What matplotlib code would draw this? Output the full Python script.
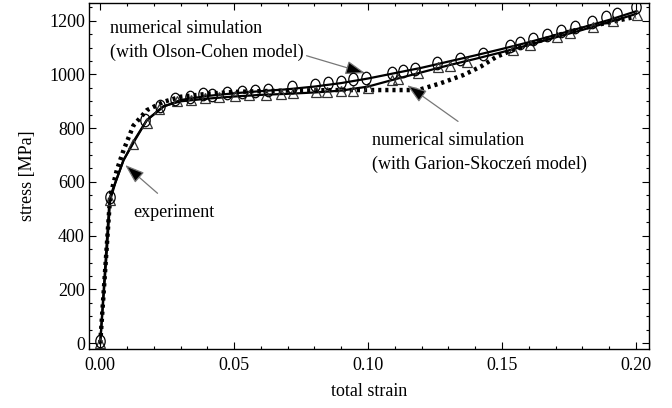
import numpy as np
import matplotlib
matplotlib.use("Agg")
import matplotlib.pyplot as plt
from matplotlib.path import Path
from matplotlib.transforms import Affine2D
from matplotlib.ticker import MultipleLocator

plt.rcParams['font.family'] = ['Liberation Serif', 'DejaVu Serif']

# experiment: solid line + triangles
exp_strain = [0, 0.0025, 0.0037, 0.0056, 0.0087, 0.013, 0.0174, 0.0236, 0.03, 0.04, 0.05,
              0.06, 0.07, 0.08, 0.09, 0.10, 0.11, 0.12, 0.13, 0.14, 0.15, 0.16, 0.17,
              0.18, 0.19, 0.20]
exp_stress = [0, 346, 532, 595, 681, 756, 830, 882, 900, 910, 918, 924, 928, 933, 940,
              955, 982, 1008, 1034, 1058, 1083, 1110, 1138, 1166, 1195, 1225]
tri_strain = [0, 0.0037, 0.0124, 0.0175, 0.022, 0.0285, 0.034, 0.039, 0.0445, 0.0505,
              0.0555, 0.062, 0.0675, 0.072, 0.0805, 0.0845, 0.090, 0.0945, 0.100, 0.1088,
              0.111, 0.1188, 0.1262, 0.1306, 0.1368, 0.1542, 0.1604, 0.1704, 0.1754,
              0.1841, 0.1915, 0.2005]
tri_stress = [0, 532, 743, 820, 870, 900, 906, 911, 917, 920, 923, 925, 928, 930, 933,
              936, 938, 940, 950, 979, 985, 1004, 1029, 1031, 1047, 1091, 1109, 1140,
              1153, 1178, 1200, 1221]

# Olson-Cohen: solid line + circles
oc_strain = [0, 0.0035, 0.0087, 0.013, 0.0174, 0.0236, 0.03, 0.04, 0.05, 0.06, 0.07,
             0.08, 0.09, 0.10, 0.11, 0.12, 0.13, 0.14, 0.15, 0.16, 0.17, 0.18, 0.19, 0.20]
oc_stress = [0, 540, 681, 760, 830, 880, 905, 920, 930, 938, 945, 955, 968, 985, 1005,
             1025, 1048, 1071, 1095, 1120, 1147, 1175, 1203, 1235]
circ_strain = [0, 0.0035, 0.0168, 0.0224, 0.028, 0.0336, 0.0385, 0.0417, 0.0473, 0.0529,
               0.0578, 0.0627, 0.0715, 0.0802, 0.085, 0.0898, 0.0944, 0.0991, 0.1088,
               0.1129, 0.1175, 0.1256, 0.1343, 0.143, 0.153, 0.1567, 0.1617, 0.1667,
               0.1722, 0.1772, 0.1835, 0.189, 0.1928, 0.2002]
circ_stress = [8, 545, 830, 882, 907, 917, 926, 923, 932, 935, 939, 944, 952, 962, 968,
               973, 982, 987, 1006, 1013, 1019, 1041, 1056, 1078, 1106, 1116, 1131, 1147,
               1162, 1178, 1196, 1215, 1225, 1250]

# Garion-Skoczen: dotted
gs_strain = [0, 0.0037, 0.0062, 0.0087, 0.0124, 0.0174, 0.0236, 0.03, 0.04, 0.05, 0.06,
             0.07, 0.08, 0.09, 0.10, 0.11, 0.1187, 0.127, 0.1356, 0.142, 0.148, 0.1555,
             0.165, 0.175, 0.1853, 0.20]
gs_stress = [0, 545, 644, 718, 810, 867, 898, 917, 928, 935, 938, 940, 941, 942, 942, 942,
             942, 967, 998, 1029, 1066, 1097, 1128, 1159, 1184, 1215]

ellipse = Path.unit_circle().transformed(Affine2D().scale(0.75, 1.0))

fig = plt.figure(figsize=(6.72, 4.08), dpi=100)
ax = fig.add_axes([0.1324, 0.1446, 0.8334, 0.848])

ax.plot(gs_strain, gs_stress, color='black', lw=3.2, linestyle=(0, (0.7, 0.9)),
        zorder=3)
ax.plot(exp_strain, exp_stress, color='black', lw=1.6, zorder=4)
ax.plot(oc_strain, oc_stress, color='black', lw=1.6, zorder=4)
ax.plot(tri_strain, tri_stress, linestyle='none', marker='^', ms=6.5, mfc='none',
        mec='#333333', mew=0.9, zorder=5)
ax.plot(circ_strain, circ_stress, linestyle='none', marker=ellipse, ms=9, mfc='none',
        mec='black', mew=0.9, zorder=5)

arrow = dict(arrowstyle='-|>,head_length=0.8,head_width=0.28', mutation_scale=15,
             ec='#777777', fc='black', lw=0.9, shrinkA=0, shrinkB=0)
fs = 13
ax.annotate('numerical simulation\n(with Olson-Cohen model)', xy=(0.0989, 1005),
            xytext=(0.0037, 1126), ha='left', va='center', fontsize=fs,
            linespacing=1.5, arrowprops=dict(arrow, relpos=(0.93, 0.25)))
ax.annotate('numerical simulation\n(with Garion-Skoczeń model)', xy=(0.1146, 960),
            xytext=(0.1015, 711), ha='left', va='center', fontsize=fs,
            linespacing=1.5, arrowprops=dict(arrow, relpos=(0.4, 1.25)))
ax.annotate('experiment', xy=(0.0093, 663), xytext=(0.0123, 488), ha='left',
            va='center', fontsize=fs, arrowprops=dict(arrow, relpos=(0.3, 1.6)))

ax.set_xlim(-0.0042, 0.2049)
ax.set_ylim(-22, 1266)
ax.xaxis.set_major_locator(MultipleLocator(0.05))
ax.xaxis.set_minor_locator(MultipleLocator(0.01))
ax.yaxis.set_major_locator(MultipleLocator(200))
ax.yaxis.set_minor_locator(MultipleLocator(50))
ax.xaxis.set_major_formatter(matplotlib.ticker.FormatStrFormatter('%.2f'))
ax.tick_params(which='both', direction='in', top=True, right=True, labelsize=fs,
               width=0.8)
ax.tick_params(which='major', length=5)
ax.tick_params(which='minor', length=2.5)
ax.tick_params(axis='x', pad=6)
ax.tick_params(axis='y', pad=3)
for sp in ax.spines.values():
    sp.set_linewidth(1.0)

ax.set_xlabel('total strain', fontsize=fs, labelpad=6)
ax.set_ylabel('stress [MPa]', fontsize=fs, labelpad=9)

fig.savefig('out.png', dpi=100)
